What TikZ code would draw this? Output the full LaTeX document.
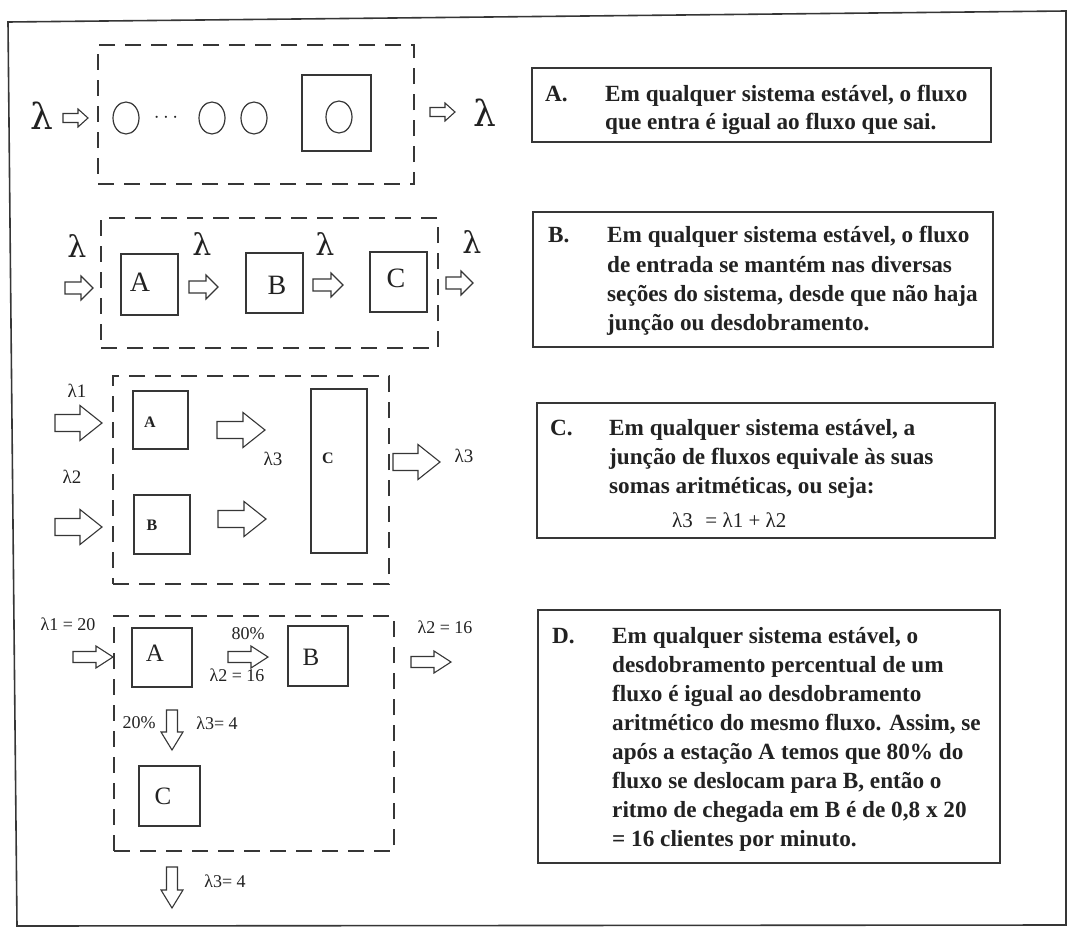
\documentclass[tikz,border=0pt]{standalone}
\usepackage{fontspec}
\setmainfont{Liberation Serif}
\newfontfamily\lamf{DejaVu Serif}
\usetikzlibrary{shapes.geometric}
\definecolor{ink}{HTML}{222222}
\definecolor{lineink}{HTML}{363636}
\begin{document}
\begin{tikzpicture}[x=1pt,y=-1pt,
  dbox/.style={draw=lineink, line width=2.2pt, dash pattern=on 16pt off 10pt, inner sep=0pt},
  sbox/.style={draw=lineink, line width=1.3pt, inner sep=0pt},
  arrline/.style={draw=lineink, line width=1.1pt, fill=white, line join=miter},
  pics/barr/.style n args={4}{code={
     \draw[arrline] (0,-#2) -- ({#1-#4},-#2) -- ({#1-#4},-#3) -- (#1,0) -- ({#1-#4},#3) -- ({#1-#4},#2) -- (0,#2) -- cycle;}},
  lbl/.style={text=ink, inner sep=0pt},
  ell/.style={ellipse, draw=lineink, line width=1.2pt, minimum width=26pt, minimum height=32pt, inner sep=0pt},
  txt/.style={text=ink, inner sep=0pt, anchor=base west, font=\fontsize{23.2}{29}\selectfont\bfseries},
  dlab/.style={text=ink, inner sep=0pt, font=\fontsize{18}{20}\selectfont},
]
\useasboundingbox (0,0) rectangle (1068,928);
\fill[white] (0,0) rectangle (1068,928);
% outer frame
\draw[lineink, line width=1.6pt] (8,22) -- (1066,11) -- (1066,925) -- (17,926) -- cycle;

% ---------- Panel A ----------
\node[dbox, minimum width=316, minimum height=139, anchor=north west] (sysA) at (97,44) {};
\node[lbl, font=\fontsize{36}{40}\lamf] (lamAin) at (42,116) {λ};
\pic (arrAin) at (63,118) {barr={25}{4.5}{9}{10}};
\node[ell] (e1) at (126,118) {};
\node[lbl, font=\fontsize{20}{22}\selectfont] (dots) at (166,118) {$\cdots$};
\node[ell] (e2) at (212,118) {};
\node[ell] (e3) at (254,118) {};
\node[sbox, minimum width=69, minimum height=76] (srvA) at (336.5,113) {};
\node[ell] (e4) at (339,117) {};
\pic (arrAout) at (430,112) {barr={25}{4.5}{9}{10}};
\node[lbl, font=\fontsize{36}{40}\lamf] (lamAout) at (485,113) {λ};

% ---------- Panel B ----------
\node[dbox, minimum width=337, minimum height=130, anchor=north west] (sysB) at (100,217) {};
\node[sbox, minimum width=57, minimum height=61] (bA) at (149.5,284.5) {};
\node[sbox, minimum width=57, minimum height=60] (bB) at (274.5,283) {};
\node[sbox, minimum width=57, minimum height=60] (bC) at (398.5,282) {};
\node[lbl, font=\fontsize{28}{30}\selectfont] (tA) at (140,282) {A};
\node[lbl, font=\fontsize{28}{30}\selectfont] (tB) at (277,285) {B};
\node[lbl, font=\fontsize{28}{30}\selectfont] (tC) at (396,278) {C};
\pic (bin) at (65,288) {barr={28}{6}{12}{12}};
\pic (bab) at (189,287) {barr={29}{6}{12}{12}};
\pic (bbc) at (313,285) {barr={30}{6}{12}{12}};
\pic (bout) at (446,283) {barr={27}{6}{12}{12}};
\node[lbl, font=\fontsize{30}{35}\lamf] (lb1) at (77,246) {λ};
\node[lbl, font=\fontsize{30}{35}\lamf] (lb2) at (202,244) {λ};
\node[lbl, font=\fontsize{30}{35}\lamf] (lb3) at (325,244) {λ};
\node[lbl, font=\fontsize{30}{35}\lamf] (lb4) at (472,242) {λ};

% ---------- Panel C ----------
\node[dbox, minimum width=276, minimum height=208, anchor=north west] (sysC) at (112,375) {};
\node[sbox, minimum width=55, minimum height=58] (cA) at (160.5,420) {};
\node[sbox, minimum width=56, minimum height=59] (cB) at (162,524.5) {};
\node[sbox, minimum width=56, minimum height=164] (cC) at (339,471) {};
\node[lbl, font=\fontsize{16}{18}\selectfont\bfseries] (ctA) at (150,422) {A};
\node[lbl, font=\fontsize{16}{18}\selectfont\bfseries] (ctB) at (152,525) {B};
\node[lbl, font=\fontsize{16}{18}\selectfont\bfseries] (ctC) at (328,458) {C};
\pic (cin1) at (55,423) {barr={47}{8.5}{17.5}{22}};
\pic (cin2) at (55,527) {barr={47}{8.5}{17.5}{22}};
\pic (cab) at (217,430) {barr={48}{8.5}{17.5}{22}};
\pic (cbc) at (218,519) {barr={48}{8.5}{17.5}{22}};
\pic (cout) at (393,462) {barr={47}{8.5}{17.5}{22}};
\node[lbl, font=\fontsize{19}{21}\selectfont] (cl1) at (77,391) {λ1};
\node[lbl, font=\fontsize{19}{21}\selectfont] (cl2) at (72,477) {λ2};
\node[lbl, font=\fontsize{19}{21}\selectfont] (cl3) at (273,459) {λ3};
\node[lbl, font=\fontsize{19}{21}\selectfont] (cl4) at (464,456) {λ3};

% ---------- Panel D ----------
\node[dbox, minimum width=280, minimum height=235, anchor=north west] (sysD) at (113,615) {};
\node[sbox, minimum width=60, minimum height=59] (dA) at (162,657.5) {};
\node[sbox, minimum width=60, minimum height=60] (dB) at (318,656) {};
\node[sbox, minimum width=61, minimum height=60] (dC) at (169.5,796) {};
\node[lbl, font=\fontsize{25}{27}\selectfont] (dtA) at (155,653) {A};
\node[lbl, font=\fontsize{25}{27}\selectfont] (dtB) at (311,657) {B};
\node[lbl, font=\fontsize{25}{27}\selectfont] (dtC) at (163,796) {C};
\pic (din) at (73,657) {barr={40}{5.5}{11}{17}};
\pic (dab) at (228,657) {barr={40}{5.5}{11}{17}};
\pic (dout) at (411,662) {barr={40}{5.5}{11}{17}};
\pic[rotate=-90] (ddown1) at (172,710) {barr={40}{5.5}{11}{18}};
\pic[rotate=-90] (ddown2) at (172,867) {barr={41}{5.5}{11}{18}};
\node[dlab] (dl1) at (68,624) {λ1 = 20};
\node[dlab] (dl2) at (248,634) {80\%};
\node[dlab] (dl3) at (237,675) {λ2 = 16};
\node[dlab] (dl4) at (445,627) {λ2 = 16};
\node[dlab] (dl5) at (139,723) {20\%};
\node[dlab] (dl6) at (217,723) {λ3= 4};
\node[dlab] (dl7) at (225,881) {λ3= 4};

% ---------- Text boxes ----------
\node[sbox, minimum width=459, minimum height=74] (boxA) at (761.5,105) {};
\node[txt] (labA) at (545,102) {A.};
\foreach \t [count=\i] in {{Em qualquer sistema estável, o fluxo},{que entra é igual ao fluxo que sai.}}
  \node[txt] (lineA\i) at (605,{102+28*(\i-1)}) {\t};

\node[sbox, minimum width=460, minimum height=135] (boxB) at (763,279.5) {};
\node[txt] (labB) at (548,243) {B.};
\foreach \t [count=\i] in {{Em qualquer sistema estável, o fluxo},{de entrada se mantém nas diversas},{seções do sistema, desde que não haja},{junção ou desdobramento.}}
  \node[txt] (lineB\i) at (607,{243+29*(\i-1)}) {\t};

\node[sbox, minimum width=458, minimum height=135] (boxC) at (766,470.5) {};
\node[txt] (labC) at (550,435) {C.};
\foreach \t [count=\i] in {{Em qualquer sistema estável, a},{junção de fluxos equivale às suas},{somas aritméticas, ou seja:}}
  \node[txt] (lineC\i) at (609,{435+29*(\i-1)}) {\t};
\node[txt, font=\fontsize{21}{24}\selectfont] (formC) at (672,527) {λ3\hspace{0.6em}= λ1 + λ2};

\node[sbox, minimum width=462, minimum height=253] (boxD) at (769,736.5) {};
\node[txt] (labD) at (552,643) {D.};
\foreach \t [count=\i] in {{Em qualquer sistema estável, o},{desdobramento percentual de um},{fluxo é igual ao desdobramento},{aritmético do mesmo fluxo. Assim, se},{após a estação A temos que 80\% do},{fluxo se deslocam para B, então o},{ritmo de chegada em B é de 0,8 x 20},{= 16 clientes por minuto.}}
  \node[txt] (lineD\i) at (612,{643+29.1*(\i-1)}) {\t};
\end{tikzpicture}
\end{document}
